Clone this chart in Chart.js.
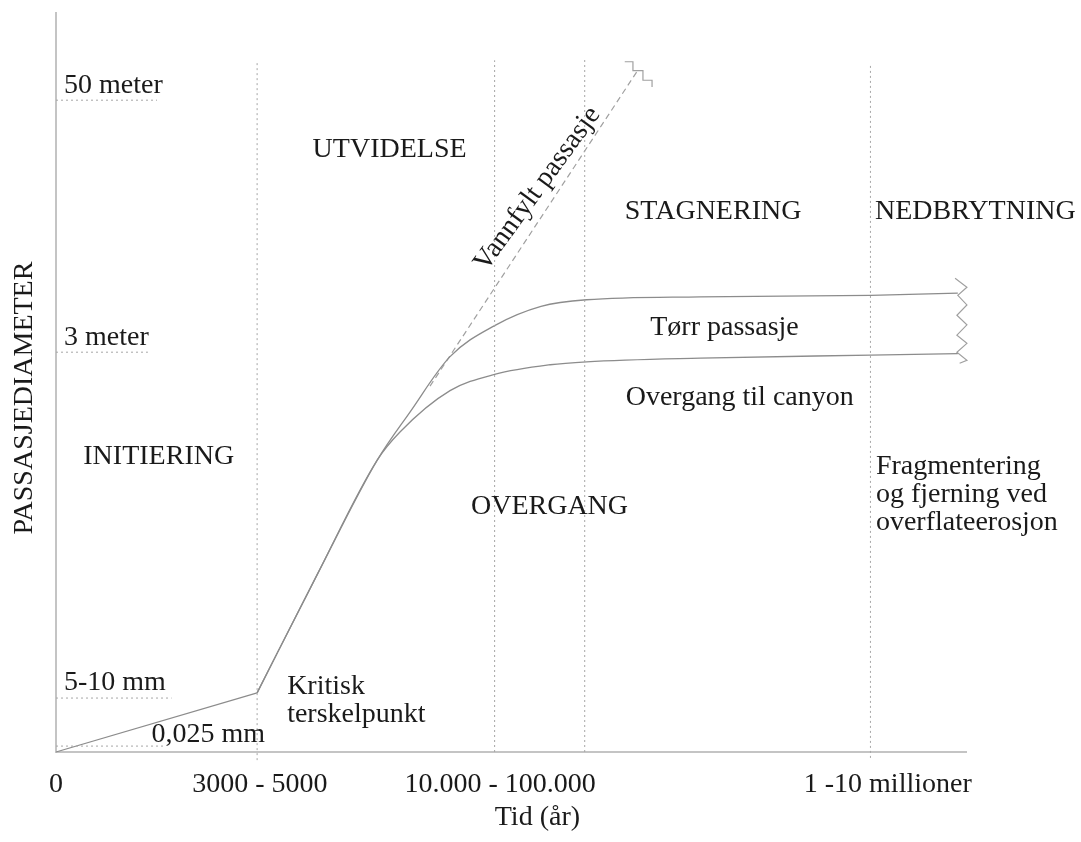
<!DOCTYPE html>
<html lang="no">
<head>
<meta charset="utf-8">
<title>Passasjediameter over tid</title>
<script src="https://cdn.jsdelivr.net/npm/chart.js@4.4.1/dist/chart.umd.min.js"></script>
<style>
  html, body { margin: 0; padding: 0; background: #fff; }
  #wrap { width: 1081px; height: 842px; }
</style>
</head>
<body>
<div id="wrap"><canvas id="grafPassasje" width="1081" height="842"></canvas></div>
<script>
// skjematisk figur: begge akser i vilkaarlige enheter (0-100)
var tickPosX = [0, 22.4, 48.8, 91.4];
var tickLabelsX = ['0', '3000 - 5000', '10.000 - 100.000', '1 -10 millioner'];
var tickPosY = [7.3, 54.1, 88.2];
var tickLabelsY = ['5-10 mm', '3 meter', '50 meter'];

// initiering, frem til kritisk terskelpunkt
var initX = [0, 22.1];
var initY = [0, 8.0];

// tørr passasje (øvre kurve)
var torrX = [22.1, 28.7, 35.3, 38.9, 43.3, 48.2, 53.3, 58.3, 70.8, 89.5, 99.1];
var torrY = [8.0, 24.0, 39.5, 46.0, 53.5, 57.7, 60.3, 61.2, 61.6, 61.8, 62.1];

// overgang til canyon (nedre kurve)
var canyonX = [22.1, 28.7, 35.3, 37.8, 43.3, 48.2, 54.3, 58.3, 70.8, 89.5, 99.1];
var canyonY = [8.0, 24.0, 39.5, 43.3, 48.9, 51.1, 52.4, 52.8, 53.3, 53.7, 53.9];

// vannfylt passasje (stiplet)
var vannX = [41.1, 63.8];
var vannY = [49.5, 92.0];
var vannBruddX = [62.5, 63.4, 63.4, 64.5, 64.5, 65.5, 65.5];
var vannBruddY = [93.4, 93.4, 92.2, 92.2, 90.9, 90.9, 90.0];

// brudd-sikksakk i høyre ende
var endeBruddX = [98.8, 100.1, 99.1, 100.1, 99.0, 100.1, 99.0, 100.1, 99.0, 100.1, 99.3];
var endeBruddY = [64.1, 62.9, 61.8, 60.5, 59.1, 57.8, 56.4, 55.3, 54.1, 53.0, 52.6];

// faseskiller (vertikale prikkede linjer)
var faseX = [22.1, 48.2, 58.1, 89.5];
var faseTopp = [93.6, 93.6, 93.9, 92.9];
var faseBunn = [-1.1, 0, 0, -0.8];

// nivålinjer ved y-aksen
var nivaaY = [0.8, 7.3, 54.1, 88.2];
var nivaaLengde = [12.0, 12.7, 10.1, 11.1];

function pts(xs, ys) {
    var ut = [];
    for (var i = 0; i < xs.length; i++) {
        ut.push({ x: xs[i], y: ys[i] });
    }
    return ut;
}

var kurveFarge = '#8c8c8c';
var prikkFarge = '#a6a6a6';
var tekstFarge = '#1a1a1a';
var serif = '"Liberation Serif", "DejaVu Serif", serif';

var datasets = [];

for (var i = 0; i < faseX.length; i++) {
    datasets.push({
        data: pts([faseX[i], faseX[i]], [faseBunn[i], faseTopp[i]]),
        borderColor: prikkFarge, borderWidth: 1, borderDash: [2, 3]
    });
}
for (var j = 0; j < nivaaY.length; j++) {
    datasets.push({
        data: pts([0, nivaaLengde[j]], [nivaaY[j], nivaaY[j]]),
        borderColor: prikkFarge, borderWidth: 1, borderDash: [2, 3]
    });
}

datasets.push({ data: pts(initX, initY), borderColor: kurveFarge, borderWidth: 1.3 });
datasets.push({ data: pts(torrX, torrY), borderColor: kurveFarge, borderWidth: 1.3, cubicInterpolationMode: 'monotone' });
datasets.push({ data: pts(canyonX, canyonY), borderColor: kurveFarge, borderWidth: 1.3, cubicInterpolationMode: 'monotone' });
datasets.push({ data: pts(vannX, vannY), borderColor: '#a0a0a0', borderWidth: 1.2, borderDash: [6, 4] });
datasets.push({ data: pts(vannBruddX, vannBruddY), borderColor: '#a0a0a0', borderWidth: 1.2 });
datasets.push({ data: pts(endeBruddX, endeBruddY), borderColor: '#a0a0a0', borderWidth: 1.2 });

datasets.forEach(function (d) {
    d.showLine = true;
    d.pointRadius = 0;
    d.fill = false;
    d.clip = false;
});

// tekster i plottet (posisjon i dataenheter), inkl. aksetitler
var etiketter = [
    { t: 'PASSASJEDIAMETER', x: -3.5, y: 47.9, rot: -90, align: 'center' },
    { t: 'Tid (år)', x: 52.9, y: -8.9, align: 'center' },
    { t: 'UTVIDELSE', x: 28.2, y: 81.5 },
    { t: 'Vannfylt passasje', x: 52.9, y: 76.2, rot: -54, align: 'center' },
    { t: 'STAGNERING', x: 62.5, y: 73.1 },
    { t: 'NEDBRYTNING', x: 90.0, y: 73.1 },
    { t: 'Tørr passasje', x: 65.3, y: 57.4 },
    { t: 'Overgang til canyon', x: 62.6, y: 48.0 },
    { t: 'INITIERING', x: 3.0, y: 39.9 },
    { t: 'OVERGANG', x: 45.6, y: 33.2 },
    { t: 'Fragmentering', x: 90.1, y: 38.6 },
    { t: 'og fjerning ved', x: 90.1, y: 34.8 },
    { t: 'overflateerosjon', x: 90.1, y: 31.1 },
    { t: 'Kritisk', x: 25.4, y: 8.9 },
    { t: 'terskelpunkt', x: 25.4, y: 5.1 },
    { t: '0,025 mm', x: 10.5, y: 2.3 }
];

var tekstPlugin = {
    id: 'tekstPlugin',
    afterDatasetsDraw: function (chart) {
        var ctx = chart.ctx;
        var sx = chart.scales.x;
        var sy = chart.scales.y;
        etiketter.forEach(function (e) {
            ctx.save();
            ctx.translate(sx.getPixelForValue(e.x), sy.getPixelForValue(e.y));
            if (e.rot) {
                ctx.rotate(e.rot * Math.PI / 180);
            }
            ctx.font = '28px ' + serif;
            ctx.fillStyle = tekstFarge;
            ctx.textAlign = e.align || 'left';
            ctx.textBaseline = 'middle';
            ctx.fillText(e.t, 0, 0);
            ctx.restore();
        });
    }
};

new Chart(document.getElementById('grafPassasje'), {
    type: 'scatter',
    data: { datasets: datasets },
    options: {
        responsive: false,
        animation: false,
        layout: { padding: { left: 40, top: 13, right: 115, bottom: 24 } },
        plugins: {
            legend: { display: false },
            tooltip: { enabled: false }
        },
        scales: {
            x: {
                type: 'linear',
                min: 0,
                max: 100,
                afterBuildTicks: function (scale) {
                    scale.ticks = tickPosX.map(function (v) { return { value: v }; });
                },
                ticks: {
                    autoSkip: false,
                    maxRotation: 0,
                    minRotation: 0,
                    padding: 19,
                    color: tekstFarge,
                    font: { family: serif, size: 28, lineHeight: 1.0 },
                    callback: function (v, idx) { return tickLabelsX[idx]; }
                },
                grid: { display: false, drawTicks: false },
                border: { display: true, color: '#c4c4c4', width: 2 }
            },
            y: {
                type: 'linear',
                min: 0,
                max: 100,
                afterBuildTicks: function (scale) {
                    scale.ticks = tickPosY.map(function (v) { return { value: v }; });
                },
                ticks: {
                    mirror: true,
                    padding: 8,
                    labelOffset: -15,
                    color: tekstFarge,
                    font: { family: serif, size: 28, lineHeight: 0.2 },
                    callback: function (v, idx) { return tickLabelsY[idx]; }
                },
                grid: { display: false, drawTicks: false },
                border: { display: true, color: '#c4c4c4', width: 2 }
            }
        }
    },
    plugins: [tekstPlugin]
});
</script>
</body>
</html>
